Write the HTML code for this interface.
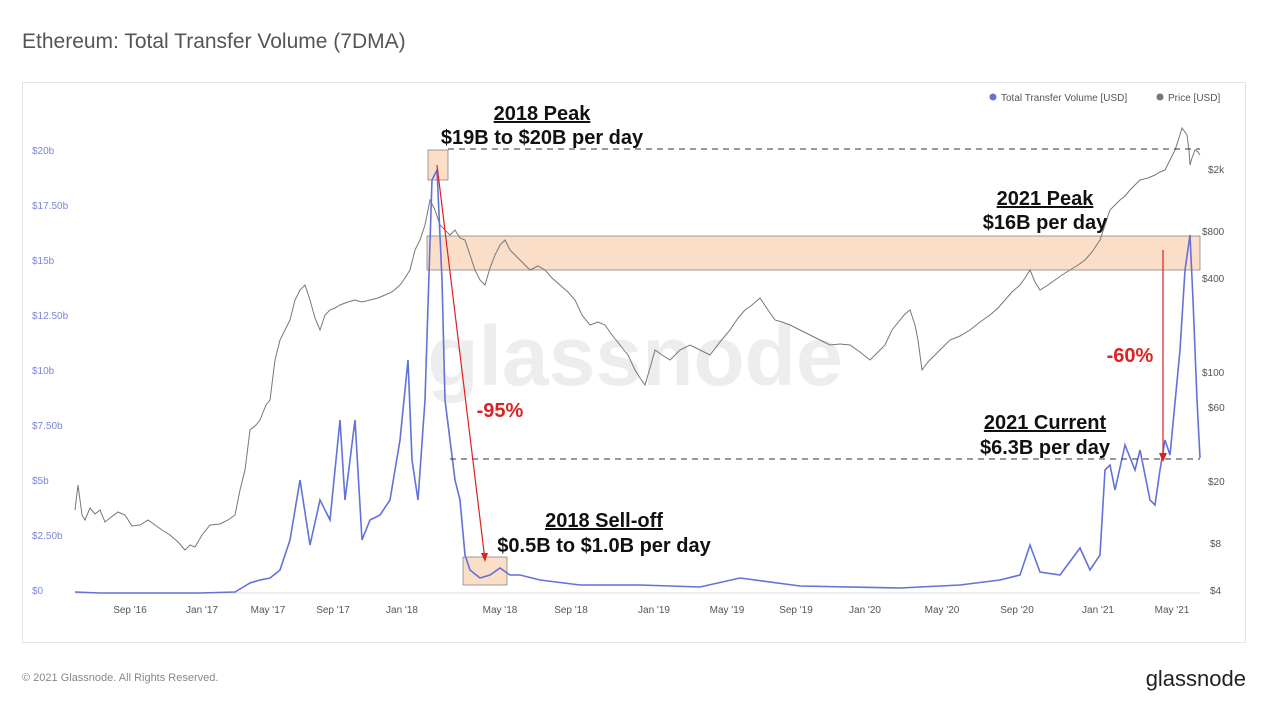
<!DOCTYPE html>
<html><head><meta charset="utf-8"><style>
body{margin:0;width:1268px;height:711px;background:#fff;font-family:"Liberation Sans",sans-serif;overflow:hidden;position:relative}
</style></head><body>
<svg width="1268" height="711" xmlns="http://www.w3.org/2000/svg" style="position:absolute;left:0;top:0" font-family="Liberation Sans, sans-serif">
<text x="22" y="48" font-size="21" fill="#555">Ethereum: Total Transfer Volume (7DMA)</text>
<rect x="22.5" y="82.5" width="1223" height="560" fill="none" stroke="#e4e4e4"/>
<text x="635" y="385" font-size="84" fill="#ededed" text-anchor="middle" font-weight="bold">glassnode</text>
<circle cx="993" cy="97" r="3.5" fill="#6272d8"/><text x="1001" y="101" font-size="10" fill="#555">Total Transfer Volume [USD]</text>
<circle cx="1160" cy="97" r="3.5" fill="#777"/><text x="1168" y="101" font-size="10" fill="#555">Price [USD]</text>
<g font-size="10" fill="#7b86d6">
<text x="32" y="154">$20b</text><text x="32" y="209">$17.50b</text><text x="32" y="264">$15b</text><text x="32" y="319">$12.50b</text><text x="32" y="374">$10b</text><text x="32" y="429">$7.50b</text><text x="32" y="484">$5b</text><text x="32" y="539">$2.50b</text><text x="32" y="594">$0</text></g>
<g font-size="10" fill="#555">
<text x="1208" y="173">$2k</text><text x="1202" y="235">$800</text><text x="1202" y="282">$400</text><text x="1202" y="376">$100</text><text x="1208" y="411">$60</text><text x="1208" y="485">$20</text><text x="1210" y="547">$8</text><text x="1210" y="594">$4</text></g>
<line x1="75" y1="593" x2="1200" y2="593" stroke="#ddd"/>
<g font-size="10" fill="#555" text-anchor="middle">
<text x="130" y="613">Sep '16</text><text x="202" y="613">Jan '17</text><text x="268" y="613">May '17</text><text x="333" y="613">Sep '17</text><text x="402" y="613">Jan '18</text><text x="500" y="613">May '18</text><text x="571" y="613">Sep '18</text><text x="654" y="613">Jan '19</text><text x="727" y="613">May '19</text><text x="796" y="613">Sep '19</text><text x="865" y="613">Jan '20</text><text x="942" y="613">May '20</text><text x="1017" y="613">Sep '20</text><text x="1098" y="613">Jan '21</text><text x="1172" y="613">May '21</text></g>
<rect x="427" y="236" width="773" height="34" fill="#f9d3b4" fill-opacity="0.75" stroke="#777" stroke-width="0.7"/>
<rect x="428" y="150" width="20" height="30" fill="#f9d3b4" fill-opacity="0.75" stroke="#777" stroke-width="0.7"/>
<rect x="463" y="557" width="44" height="28" fill="#f9d3b4" fill-opacity="0.75" stroke="#777" stroke-width="0.7"/>
<polyline fill="none" stroke="#777" stroke-width="1" points="75,510 78,485 82,515 85,520 90,508 95,514 100,510 105,522 110,518 118,512 125,515 132,526 140,525 148,520 155,525 162,530 170,535 178,542 185,550 190,545 195,547 202,535 210,525 220,524 228,520 235,515 240,490 245,470 250,430 256,425 260,420 266,405 270,400 275,360 280,340 285,330 290,320 295,300 300,290 305,285 310,300 315,318 320,330 325,315 330,310 335,308 340,305 348,302 355,300 362,302 370,300 378,298 385,295 392,292 400,285 405,278 410,270 415,250 420,240 425,225 430,200 435,210 440,225 445,230 450,235 455,230 460,238 465,240 470,255 475,270 480,280 485,285 490,268 495,255 500,245 505,240 510,250 515,255 522,262 530,270 538,266 545,270 552,278 560,285 568,292 575,300 582,315 590,325 598,322 605,325 612,335 620,345 628,355 635,370 640,378 645,385 650,368 655,350 662,355 670,360 680,350 690,345 700,350 710,355 720,342 730,330 738,318 745,310 752,305 760,298 768,310 775,320 782,322 790,325 800,330 810,335 820,340 830,345 840,344 850,345 860,352 870,360 878,352 885,345 892,330 900,320 905,314 910,310 915,325 918,340 922,370 928,362 935,355 942,348 950,340 960,336 970,330 980,322 990,315 998,308 1005,300 1012,292 1020,285 1025,278 1030,270 1035,282 1040,290 1048,285 1055,280 1062,275 1070,270 1078,265 1085,260 1092,252 1100,240 1105,225 1110,210 1115,205 1120,200 1125,196 1130,190 1135,185 1140,180 1148,178 1155,175 1160,172 1165,170 1170,160 1175,150 1179,138 1182,128 1185,132 1187,135 1189,150 1190,165 1192,158 1195,150 1198,152 1200,155"/>
<polyline fill="none" stroke="#6272d8" stroke-width="1.6" points="75,592 100,593 150,593 200,593 235,592 250,583 260,580 270,578 280,570 290,540 300,480 310,545 320,500 330,520 340,420 345,500 355,420 362,540 370,520 380,515 390,500 400,440 408,360 412,460 418,500 425,400 432,180 437,170 442,280 445,400 450,440 455,480 460,500 465,555 470,570 480,578 490,575 500,568 510,575 520,575 540,580 580,585 640,585 700,587 740,578 800,586 900,588 960,585 1000,580 1020,575 1030,545 1040,572 1060,575 1080,548 1090,570 1100,555 1105,470 1110,465 1115,490 1125,445 1135,470 1140,450 1150,500 1155,505 1160,470 1165,440 1170,455 1180,350 1185,270 1190,235 1193,300 1197,400 1200,458"/>
<line x1="448" y1="149" x2="1200" y2="149" stroke="#333" stroke-dasharray="6,5"/>
<line x1="450" y1="459" x2="1200" y2="459" stroke="#333" stroke-dasharray="6,5"/>
<g stroke="#d22" stroke-width="1.2"><line x1="437" y1="165" x2="485" y2="560"/><line x1="1163" y1="250" x2="1163" y2="460"/></g>
<polygon points="485,562 481,553 488,553" fill="#d22"/><polygon points="1163,462 1159,453 1167,453" fill="#d22"/>
<g font-size="20" fill="#111" text-anchor="middle" font-weight="bold">
<text x="542" y="120" text-decoration="underline">2018 Peak</text><text x="542" y="144">$19B to $20B per day</text>
<text x="1045" y="205" text-decoration="underline">2021 Peak</text><text x="1045" y="229">$16B per day</text>
<text x="1045" y="429" text-decoration="underline">2021 Current</text><text x="1045" y="454">$6.3B per day</text>
<text x="604" y="527" text-decoration="underline">2018 Sell-off</text><text x="604" y="552">$0.5B to $1.0B per day</text>
</g>
<text x="500" y="417" font-size="20" fill="#d22" font-weight="bold" text-anchor="middle">-95%</text>
<text x="1130" y="362" font-size="20" fill="#d22" font-weight="bold" text-anchor="middle">-60%</text>
<text x="22" y="681" font-size="11" fill="#888">© 2021 Glassnode. All Rights Reserved.</text>
<text x="1246" y="686" font-size="22" fill="#222" text-anchor="end">glassnode</text>
</svg>
</body></html>
